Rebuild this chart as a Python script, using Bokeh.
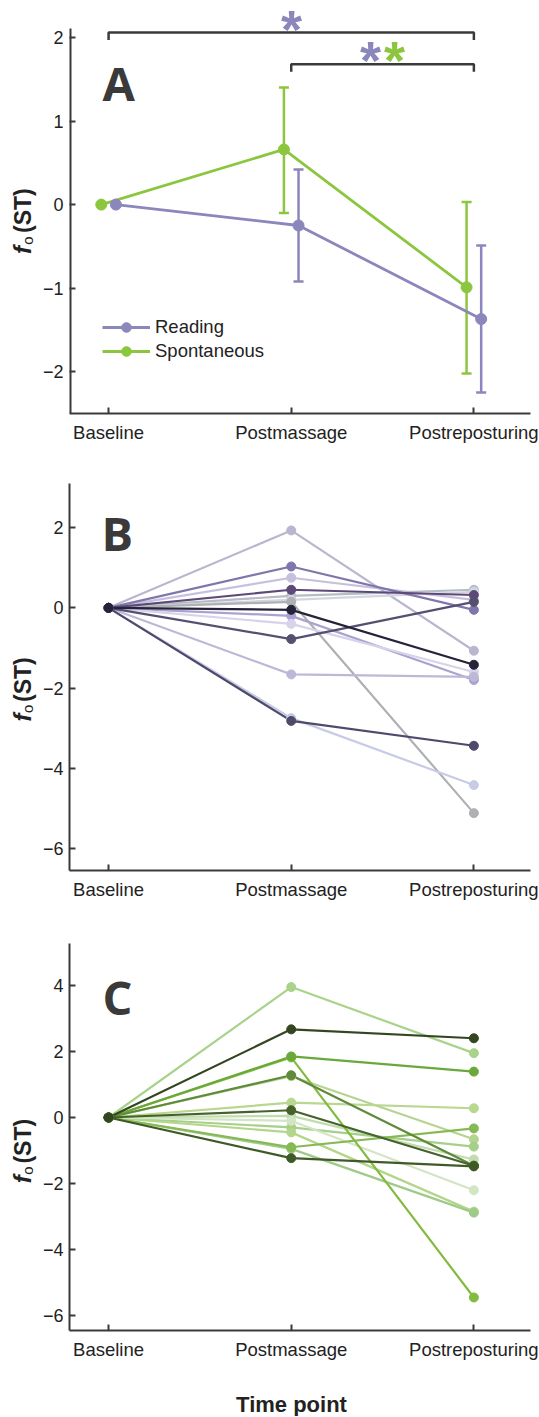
import numpy as np
from bokeh.plotting import figure
from bokeh.layouts import column, row
from bokeh.models import (FixedTicker, Label, Legend, LegendItem, Whisker, TeeHead,
                          ColumnDataSource, Range1d)
from bokeh.embed import file_html
from bokeh.resources import INLINE
from bokeh.core.properties import value

# ---------------- data ----------------
time_points = ["Baseline", "Postmassage", "Postreposturing"]
x_pos = [1, 2, 3]

# Panel A (group means with error bars)
reading_mean = [0.0, -0.25, -1.37]
reading_upper = [0.0, 0.42, -0.49]
reading_lower = [0.0, -0.92, -2.25]
spont_mean = [0.0, 0.66, -0.99]
spont_upper = [0.0, 1.40, 0.03]
spont_lower = [0.0, -0.10, -2.02]

# Panel B (reading, individual speakers)
reading_baseline = [0.0, 0.0, 0.0, 0.0, 0.0, 0.0, 0.0, 0.0, 0.0, 0.0, 0.0, 0.0, 0.0, 0.0]
reading_postmassage = [1.93, 0.75, 0.30, 0.20, 0.15, -0.20, -0.40, -1.66, -2.75,
                       1.03, 0.45, -0.78, -2.82, -0.05]
reading_postreposturing = [-1.07, 0.20, 0.45, 0.40, -5.12, -1.80, -1.60, -1.72, -4.42,
                           -0.05, 0.32, 0.15, -3.44, -1.42]
reading_colors = ["#b9b6d0", "#c6c0df", "#b5bcc4", "#d3d6df", "#aeb0b4", "#aaa3cf",
                  "#d8d2ea", "#bdb8d8", "#c8cbe6", "#7f76ab", "#5d4a78", "#55506f",
                  "#4d4a6b", "#24233a"]

# Panel C (spontaneous, individual speakers)
spont_baseline = [0.0, 0.0, 0.0, 0.0, 0.0, 0.0, 0.0, 0.0, 0.0, 0.0, 0.0, 0.0, 0.0, 0.0, 0.0]
spont_postmassage = [3.95, 1.25, 0.45, 0.05, -0.30, -0.45, -0.10, -0.95, 1.82,
                     1.85, -0.90, 1.28, 0.22, -1.23, 2.67]
spont_postreposturing = [1.95, -0.66, 0.28, -1.27, -0.88, -2.85, -2.20, -2.88, -5.45,
                         1.39, -0.33, -1.46, -1.46, -1.48, 2.40]
spont_colors = ["#a9d38a", "#b5d490", "#b8d78f", "#c2dcae", "#a5cf8b", "#b4d68a",
                "#d2e5c4", "#9ecb88", "#82bb3f", "#6aa83a", "#86b854", "#5e8a3a",
                "#45622c", "#3f5a27", "#33461f"]

y_ticks_a = [-2, -1, 0, 1, 2]
y_ticks_b = [-6, -4, -2, 0, 2]
y_ticks_c = [-6, -4, -2, 0, 2, 4]

# ---------------- style ----------------
PURPLE = "#8b86bc"
GREEN = "#8cc63f"
AXIS = "#3a3a3a"
TXT = "#222222"
FONT = "Liberation Sans"
BASE_SHIFT = 0.43   # empirical: rendered glyphs sit this many em below the anchor

LAB_W = 37
FIG_W = 539 - LAB_W
BORDER_L = 32
BORDER_R = 9
FRAME_W = FIG_W - BORDER_L - BORDER_R
X0, X1 = 0.786, 3.31
PAGE_FRAME_LEFT = LAB_W + BORDER_L


def minus(v):
    return ("\u2212" + str(abs(v))) if v < 0 else str(v)


class Panel:
    def __init__(self, y0, y1, yticks, height, btop, bbot, page_top):
        self.y0, self.y1 = y0, y1
        self.fh = height - btop - bbot
        self.frame_top = page_top + btop
        self.page_top = page_top
        self.height = height
        p = figure(width=FIG_W, height=height, output_backend="svg", toolbar_location=None,
                   x_range=Range1d(X0, X1), y_range=Range1d(y0, y1),
                   min_border_left=BORDER_L, min_border_right=BORDER_R,
                   min_border_top=btop, min_border_bottom=bbot, title=None)
        p.outline_line_color = None
        p.xgrid.visible = False
        p.ygrid.visible = False
        p.background_fill_color = "white"
        p.border_fill_color = "white"
        for ax in (p.xaxis[0], p.yaxis[0]):
            ax.axis_line_color = AXIS
            ax.axis_line_width = 2
            ax.major_tick_line_color = AXIS
            ax.major_tick_line_width = 2
            ax.major_tick_in = 6
            ax.major_tick_out = 0
            ax.minor_tick_line_color = None
            ax.major_label_text_font = FONT
            ax.major_label_text_color = TXT
        p.xaxis.major_label_text_font_size = "18.5px"
        p.yaxis.major_label_text_font_size = "18px"
        p.xaxis.ticker = FixedTicker(ticks=x_pos)
        p.xaxis.major_label_overrides = {x: t for x, t in zip(x_pos, time_points)}
        p.xaxis.major_label_standoff = 8
        p.yaxis.ticker = FixedTicker(ticks=yticks)
        p.yaxis.major_label_overrides = {t: minus(t) for t in yticks}
        p.yaxis.major_label_standoff = 6
        self.p = p

        # narrow figure on the left holding the rotated y-axis title
        # (x and y in this figure are plain pixels, y measured up from its bottom)
        lab = figure(width=LAB_W, height=height, output_backend="svg", toolbar_location=None,
                     x_range=Range1d(0, LAB_W), y_range=Range1d(0, height),
                     x_axis_location=None, y_axis_location=None, min_border=0, title=None)
        lab.outline_line_color = None
        lab.xgrid.visible = False
        lab.ygrid.visible = False
        self.lab = lab

    def dx(self, page_x):
        return X0 + (page_x - PAGE_FRAME_LEFT) / FRAME_W * (X1 - X0)

    def dy(self, page_y):
        return self.y1 - (page_y - self.frame_top) / self.fh * (self.y1 - self.y0)

    def ylabel(self, page_start):
        # rotated pieces reading bottom-to-top: italic f, subscript o, (ST)
        ang = np.pi / 2
        parts = [("f", 24, "bold italic", 32, page_start),
                 ("o", 15, "normal", 33.5, page_start - 10),
                 ("(ST)", 23, "bold", 32.5, page_start - 23)]
        for txt, fs, style, base_x, py in parts:
            self.lab.text(x=[base_x - BASE_SHIFT * fs], y=[self.height - (py - self.page_top)],
                          text=[txt], angle=ang, text_font=value(FONT),
                          text_font_size=f"{fs}px", text_font_style=style, text_color=TXT,
                          text_align="left", text_baseline="alphabetic")

    def letter(self, txt, page_x, page_base):
        fs = 47
        self.p.add_layout(Label(x=self.dx(page_x), y=self.dy(page_base - BASE_SHIFT * fs),
                                text=txt, text_font="Open Sans", text_font_size=f"{fs}px",
                                text_font_style="bold", text_color="#3a3a3a",
                                text_align="left", text_baseline="alphabetic"))

    def star(self, page_x, page_cy, col):
        fs = 54
        # asterisk glyph centre sits ~0.575em above the alphabetic baseline
        base = page_cy + 0.575 * fs
        self.p.add_layout(Label(x=self.dx(page_x), y=self.dy(base - BASE_SHIFT * fs), text="*",
                                text_font=FONT, text_font_size=f"{fs}px", text_font_style="bold",
                                text_color=col, text_align="center", text_baseline="alphabetic"))


# ---------------- Panel A ----------------
A = Panel(-2.5, 2.4426, y_ticks_a, 453, 0, 40, 0)
pa = A.p
pa.yaxis.axis_line_color = None
pa.segment(x0=[X0], y0=[-2.5], x1=[X0], y1=[A.dy(28)], line_color=AXIS, line_width=4)

off = 0.04
xs_r = [x + off for x in x_pos]
xs_s = [x - off for x in x_pos]

src_s = ColumnDataSource(dict(x=xs_s[1:], up=spont_upper[1:], lo=spont_lower[1:]))
src_r = ColumnDataSource(dict(x=xs_r[1:], up=reading_upper[1:], lo=reading_lower[1:]))

for src, col in ((src_s, GREEN), (src_r, PURPLE)):
    w = Whisker(base="x", upper="up", lower="lo", source=src, dimension="height",
                line_color=col, line_width=2.5,
                upper_head=TeeHead(size=10, line_color=col, line_width=2.5),
                lower_head=TeeHead(size=10, line_color=col, line_width=2.5))
    pa.add_layout(w)

ls = pa.line(xs_s, spont_mean, line_color=GREEN, line_width=2.8)
cs = pa.scatter(xs_s, spont_mean, size=11, fill_color=GREEN, line_color=GREEN)
lr = pa.line(xs_r, reading_mean, line_color=PURPLE, line_width=2.8)
cr = pa.scatter(xs_r, reading_mean, size=11, fill_color=PURPLE, line_color=PURPLE)

legend = Legend(items=[LegendItem(label="Reading", renderers=[lr, cr]),
                       LegendItem(label="Spontaneous", renderers=[ls, cs])],
                location=(33, 50), padding=0, spacing=0, margin=0,
                border_line_color=None, background_fill_alpha=0,
                label_text_font=FONT, label_text_font_size="18.5px", label_text_color=TXT,
                glyph_width=48, glyph_height=24, label_height=24, label_standoff=5)
pa.add_layout(legend)

# significance brackets
pa.multi_line(xs=[[1, 1, 3, 3], [2, 2, 3, 3]],
              ys=[[1.97, 2.06, 2.06, 1.97], [1.59, 1.68, 1.68, 1.59]],
              line_color=AXIS, line_width=2.5)

A.star(291, 21, PURPLE)
A.star(370, 52, PURPLE)
A.star(394, 52, GREEN)
A.letter("A", 102, 103)
A.ylabel(278)

# ---------------- Panel B ----------------
B = Panel(-6.55, 3.1, y_ticks_b, 457, 30, 40, 453)
pb = B.p
srcb = ColumnDataSource(dict(
    xs=[x_pos for _ in reading_colors],
    ys=[[b, m, r] for b, m, r in zip(reading_baseline, reading_postmassage, reading_postreposturing)],
    color=reading_colors))
pb.multi_line(xs="xs", ys="ys", line_color="color", line_width=2.2, source=srcb)
for i, c in enumerate(reading_colors):
    pb.scatter(x_pos, [reading_baseline[i], reading_postmassage[i], reading_postreposturing[i]],
               size=9, fill_color=c, line_color=c)
B.letter("B", 101, 553)
B.ylabel(734)

# ---------------- Panel C ----------------
C = Panel(-6.45, 5.27, y_ticks_c, 452, 33, 32, 910)
pc = C.p
srcc = ColumnDataSource(dict(
    xs=[x_pos for _ in spont_colors],
    ys=[[b, m, r] for b, m, r in zip(spont_baseline, spont_postmassage, spont_postreposturing)],
    color=spont_colors))
pc.multi_line(xs="xs", ys="ys", line_color="color", line_width=2.2, source=srcc)
for i, c in enumerate(spont_colors):
    pc.scatter(x_pos, [spont_baseline[i], spont_postmassage[i], spont_postreposturing[i]],
               size=9, fill_color=c, line_color=c)
C.letter("C", 102, 1017)
C.ylabel(1190)

# ---------------- x-axis title ----------------
TIME_H = 54
TIME_TOP = 910 + 452
tf = figure(width=539, height=TIME_H, output_backend="svg", toolbar_location=None,
            x_range=Range1d(0, 539), y_range=Range1d(0, TIME_H),
            x_axis_location=None, y_axis_location=None, min_border=0, title=None)
tf.outline_line_color = None
tf.xgrid.visible = False
tf.ygrid.visible = False
tf.text(x=[291], y=[TIME_H - (1413 - BASE_SHIFT * 22 - TIME_TOP)], text=["Time point"],
        text_font=value(FONT), text_font_size="22px", text_font_style="bold",
        text_color=TXT, text_align="center", text_baseline="alphabetic")

layout = column(row(A.lab, pa, spacing=0), row(B.lab, pb, spacing=0),
                row(C.lab, pc, spacing=0), tf, spacing=0)
open("out.html", "w").write(file_html(layout, INLINE))
